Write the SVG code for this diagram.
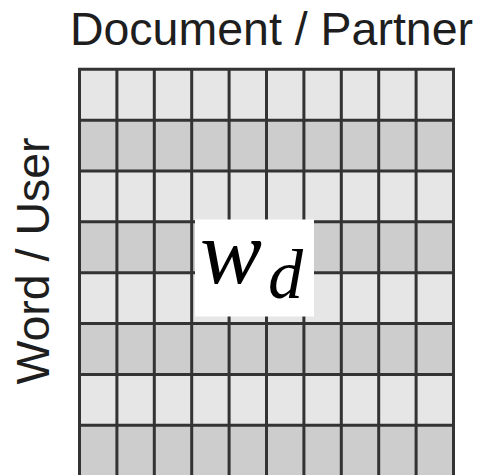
<svg xmlns="http://www.w3.org/2000/svg" width="487" height="475" viewBox="0 0 487 475">
<style>
.lt{fill:#e6e6e6}
.dk{fill:#cdcdcd}
.ln{stroke:#333;stroke-width:3;fill:none}
.lbl{font-family:"Liberation Sans",Arial,sans-serif;font-size:46.5px;fill:#1e1e1e}
.math{font-family:"Liberation Serif","Times New Roman",serif;font-style:italic;fill:#000}
</style>
<rect width="487" height="475" fill="#fff"/>
<g id="title"><text class="lbl" x="271.5" y="45" text-anchor="middle">Document / Partner</text></g>
<g id="ylabel"><text class="lbl" transform="translate(49,261) rotate(-90)" text-anchor="middle">Word / User</text></g>
<g id="matrix">
<rect class="lt" x="79.5" y="69.3" width="374" height="50.85"/>
<rect class="dk" x="79.5" y="120.15" width="374" height="50.85"/>
<rect class="lt" x="79.5" y="171" width="374" height="50.85"/>
<rect class="dk" x="79.5" y="221.85" width="374" height="50.85"/>
<rect class="lt" x="79.5" y="272.7" width="374" height="50.85"/>
<rect class="dk" x="79.5" y="323.55" width="374" height="50.85"/>
<rect class="lt" x="79.5" y="374.4" width="374" height="50.85"/>
<rect class="dk" x="79.5" y="425.25" width="374" height="50.85"/>
<path class="ln" d="M79.5 69.3V476M116.9 69.3V476M154.3 69.3V476M191.7 69.3V476M229.1 69.3V476M266.5 69.3V476M303.9 69.3V476M341.3 69.3V476M378.7 69.3V476M416.1 69.3V476M453.5 69.3V476
M78 69.3H455M78 120.15H455M78 171H455M78 221.85H455M78 272.7H455M78 323.55H455M78 374.4H455M78 425.25H455"/>
</g>
<g id="wd">
<rect x="195" y="219.5" width="119" height="97" fill="#fff"/>
<text class="math" x="200" y="283" font-size="92" textLength="62" lengthAdjust="spacingAndGlyphs">w</text>
<text class="math" x="268" y="298" font-size="70">d</text>
</g>
</svg>
